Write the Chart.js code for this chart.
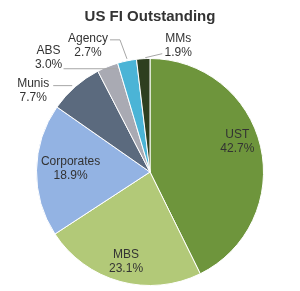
<!DOCTYPE html>
<html>
<head>
<meta charset="utf-8">
<script src="https://cdn.jsdelivr.net/npm/chart.js@4"></script>
<style>
  html, body { margin: 0; padding: 0; background: #fff; }
  #wrap { width: 300px; height: 291px; position: relative; }
</style>
</head>
<body>
<div id="wrap"><canvas id="fiChart"></canvas></div>
<script>
// data
var categories = ['UST', 'MBS', 'Corporates', 'Munis', 'ABS', 'Agency', 'MMs'];
var shares = [42.7, 23.1, 18.9, 7.7, 3.0, 2.7, 1.9];
var sliceColors = ['#6e953c', '#b2c978', '#93b3e3', '#5b6a7e', '#a9aab3', '#4bb4d6', '#2e3f1f'];

// label placement: inside labels sit at 0.7r, outside ones hang off the edge
var labelPlace = {
    UST:        { f: 0.7, dx: 10, dy: -12 },
    MBS:        { f: 0.7, dx: -3, dy: 13 },
    Corporates: { f: 0.7, dx: 0, dy: -2 },
    Munis:      { f: 1, dx: -42, dy: 4, line: [[-3, -1], [-22, -1]] },
    ABS:        { f: 1, dx: -59, dy: -9, line: [[10, 2], [-44, 2]] },
    Agency:     { f: 1, dx: -39, dy: -15, line: [[0, -2], [-7, -21], [-17, -21]] },
    MMs:        { f: 1, dx: 35, dy: -13, line: [[2, -1], [19, -5]] }
};

var sliceLabels = {
    id: 'sliceLabels',
    afterDatasetsDraw: function(chart) {
        var ctx = chart.ctx;
        var meta = chart.getDatasetMeta(0);
        ctx.save();
        ctx.font = '12px "Liberation Sans", Arial, sans-serif';
        ctx.fillStyle = '#333333';
        ctx.textAlign = 'center';
        ctx.textBaseline = 'middle';
        meta.data.forEach(function(arc, i) {
            var p = labelPlace[categories[i]];
            var mid = (arc.startAngle + arc.endAngle) / 2;
            var ax = arc.x + Math.cos(mid) * arc.outerRadius * p.f;
            var ay = arc.y + Math.sin(mid) * arc.outerRadius * p.f;
            if (p.line) {
                ctx.strokeStyle = '#a6a6a6';
                ctx.lineWidth = 1;
                ctx.beginPath();
                p.line.forEach(function(pt, k) {
                    if (k === 0) ctx.moveTo(ax + pt[0], ay + pt[1]);
                    else ctx.lineTo(ax + pt[0], ay + pt[1]);
                });
                ctx.stroke();
            }
            var tx = ax + p.dx, ty = ay + p.dy;
            ctx.fillText(categories[i], tx, ty - 7);
            ctx.fillText(shares[i].toFixed(1) + '%', tx, ty + 7);
        });
        ctx.restore();
    }
};

var ctx = document.getElementById('fiChart').getContext('2d');
var chart = new Chart(ctx, {
    type: 'pie',
    data: {
        labels: categories,
        datasets: [{
            data: shares,
            backgroundColor: sliceColors,
            borderColor: '#ffffff',
            borderWidth: 1
        }]
    },
    options: {
        responsive: true,
        maintainAspectRatio: false,
        animation: false,
        layout: { padding: { top: 0, bottom: 5, left: 35, right: 35 } },
        plugins: {
            legend: { display: false },
            tooltip: { enabled: false },
            title: {
                display: true,
                text: 'US FI Outstanding',
                color: '#333333',
                font: { family: '"Liberation Sans", Arial, sans-serif', size: 15, weight: 'bold' },
                padding: { top: 8, bottom: 32 }
            }
        }
    },
    plugins: [sliceLabels]
});
</script>
</body>
</html>
